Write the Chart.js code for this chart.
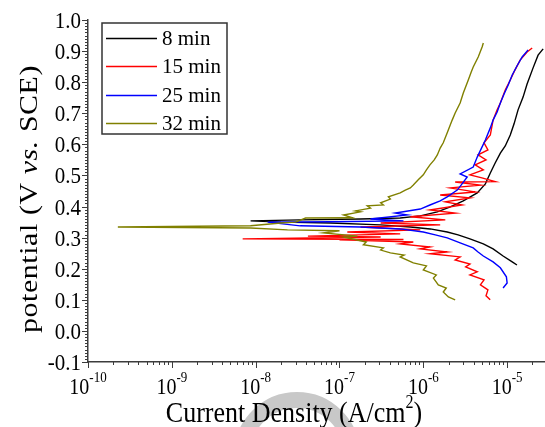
<!DOCTYPE html>
<html>
<head>
<meta charset="utf-8">
<script src="https://cdn.jsdelivr.net/npm/chart.js@4/dist/chart.umd.min.js"></script>
<style>
  html, body { margin: 0; padding: 0; background: #fff; }
  canvas { display: block; }
</style>
</head>
<body>
<canvas id="tafel" width="545" height="427"></canvas>
<script>
// series names and colours
const nombres = ["8 min", "15 min", "25 min", "32 min"];
const colores = ["#000000", "#ff0000", "#0000ff", "#808000"];

// 8 min (current A/cm2, potential V)
const curr8 = [1.31e-5, 1.15e-5, 8.95e-6, 6.8e-6, 5.2e-6, 3.6e-6, 2.6e-6, 1.93e-6, 1.21e-6, 7.0e-7, 3.1e-7, 7.8e-8, 2.0e-8, 8.7e-9, 3.4e-8, 1.78e-7, 5.3e-7, 9.2e-7, 1.47e-6, 2.1e-6, 3.0e-6, 4.4e-6, 5.5e-6, 6.3e-6, 7.2e-6, 8.3e-6, 9.5e-6, 1.09e-5, 1.21e-5, 1.35e-5, 1.55e-5, 1.73e-5, 2.04e-5, 2.34e-5, 2.69e-5];
const pot8 = [0.212, 0.222, 0.241, 0.264, 0.280, 0.296, 0.309, 0.318, 0.328, 0.334, 0.341, 0.347, 0.350, 0.354, 0.357, 0.360, 0.363, 0.370, 0.383, 0.399, 0.418, 0.444, 0.473, 0.508, 0.540, 0.572, 0.595, 0.630, 0.666, 0.711, 0.752, 0.794, 0.846, 0.887, 0.907];

// 15 min
const curr15 = [6.28e-6, 5.6e-6, 5.9e-6, 4.8e-6, 5.3e-6, 3.6e-6, 4.4e-6, 3.2e-6, 3.6e-6, 2.4e-6, 2.75e-6, 1.2e-6, 1.93e-6, 9.2e-7, 1.2e-6, 5.3e-7, 7.6e-7, 1.0e-7, 5.8e-7, 7.0e-9, 3.1e-7, 4.2e-8, 5.3e-7, 1.24e-7, 9.2e-7, 1.78e-7, 1.59e-6, 3.1e-7, 1.83e-6, 7.0e-7, 2.4e-6, 1.2e-6, 2.9e-6, 1.83e-6, 3.6e-6, 1.59e-6, 4.16e-6, 2.1e-6, 4.8e-6, 2.4e-6, 7.2e-6, 5.0e-6, 3.6e-6, 5.2e-6, 4.16e-6, 5.6e-6, 4.5e-6, 5.9e-6, 5.3e-6, 6.3e-6, 6.8e-6, 7.6e-6, 8.3e-6, 9.5e-6, 1.09e-5, 1.24e-5, 1.43e-5, 1.73e-5, 1.99e-5];
const pot15 = [0.100, 0.113, 0.132, 0.148, 0.164, 0.180, 0.190, 0.206, 0.215, 0.228, 0.238, 0.248, 0.254, 0.264, 0.270, 0.280, 0.286, 0.293, 0.294, 0.296, 0.302, 0.305, 0.312, 0.318, 0.325, 0.334, 0.341, 0.347, 0.357, 0.367, 0.379, 0.389, 0.405, 0.415, 0.428, 0.437, 0.447, 0.460, 0.469, 0.479, 0.480, 0.492, 0.502, 0.518, 0.534, 0.550, 0.566, 0.582, 0.605, 0.630, 0.678, 0.711, 0.733, 0.775, 0.807, 0.839, 0.871, 0.897, 0.910];

// 25 min
const curr25 = [8.95e-6, 1.0e-5, 9.8e-6, 8.3e-6, 6.8e-6, 5.2e-6, 4.5e-6, 3.94e-6, 2.75e-6, 1.93e-6, 1.39e-6, 1.0e-6, 5.3e-7, 1.78e-7, 3.4e-8, 1.39e-8, 7.8e-8, 5.8e-7, 2.34e-7, 6.46e-7, 4.64e-7, 9.2e-7, 1.2e-6, 1.59e-6, 1.93e-6, 2.54e-6, 2.9e-6, 3.34e-6, 2.75e-6, 3.94e-6, 4.4e-6, 5.03e-6, 5.5e-6, 6.3e-6, 6.8e-6, 7.6e-6, 8.3e-6, 9.2e-6, 1.03e-5, 1.15e-5, 1.31e-5, 1.51e-5, 1.78e-5];
const pot25 = [0.138, 0.154, 0.174, 0.203, 0.222, 0.241, 0.254, 0.267, 0.283, 0.299, 0.309, 0.318, 0.328, 0.334, 0.338, 0.350, 0.351, 0.354, 0.360, 0.373, 0.379, 0.392, 0.405, 0.418, 0.431, 0.453, 0.473, 0.495, 0.505, 0.527, 0.559, 0.592, 0.614, 0.653, 0.678, 0.704, 0.733, 0.762, 0.791, 0.823, 0.852, 0.881, 0.904];

// 32 min
const curr32 = [2.4e-6, 1.99e-6, 1.73e-6, 1.88e-6, 1.51e-6, 1.32e-6, 1.43e-6, 1.0e-6, 1.09e-6, 7.6e-7, 5.3e-7, 5.9e-7, 4.05e-7, 3.1e-7, 3.34e-7, 1.93e-7, 2.09e-7, 1.12e-7, 1.64e-7, 6.46e-8, 1.0e-7, 2.4e-8, 8.7e-9, 2.27e-10, 8.7e-9, 2.0e-8, 2.99e-8, 3.94e-8, 1.43e-7, 1.12e-7, 1.78e-7, 1.55e-7, 2.34e-7, 2.15e-7, 3.34e-7, 3.1e-7, 4.05e-7, 3.83e-7, 5.3e-7, 6.1e-7, 7.0e-7, 7.6e-7, 8.7e-7, 1.0e-6, 1.09e-6, 1.2e-6, 1.35e-6, 1.47e-6, 1.59e-6, 1.73e-6, 1.93e-6, 2.21e-6, 2.4e-6, 2.75e-6, 3.0e-6, 3.44e-6, 3.73e-6, 3.94e-6, 4.52e-6, 5.03e-6, 5.2e-6];
const pot32 = [0.100, 0.109, 0.125, 0.138, 0.148, 0.170, 0.180, 0.196, 0.209, 0.219, 0.238, 0.244, 0.251, 0.260, 0.267, 0.277, 0.286, 0.302, 0.305, 0.315, 0.322, 0.325, 0.331, 0.334, 0.338, 0.347, 0.350, 0.363, 0.364, 0.373, 0.383, 0.386, 0.395, 0.402, 0.405, 0.412, 0.424, 0.431, 0.444, 0.453, 0.460, 0.469, 0.486, 0.502, 0.518, 0.534, 0.550, 0.566, 0.588, 0.605, 0.637, 0.678, 0.701, 0.733, 0.765, 0.807, 0.833, 0.849, 0.881, 0.913, 0.926];

// axis ticks
const xTickExps = [-10, -9, -8, -7, -6, -5];
const yTickVals = [-0.1, 0.0, 0.1, 0.2, 0.3, 0.4, 0.5, 0.6, 0.7, 0.8, 0.9, 1.0];

const serie = (c, p) => c.map((v, i) => ({ x: v, y: p[i] }));
const series = [serie(curr8, pot8), serie(curr15, pot15), serie(curr25, pot25), serie(curr32, pot32)];

const FUENTE = "'Liberation Serif', 'Times New Roman', serif";

function fuente(size, style) {
  return (style || "normal") + " " + size + "px " + FUENTE;
}

// text with a vertical stretch, like the scanned figure
function texto(ctx, str, x, y, size, align, sy, style) {
  ctx.save();
  ctx.translate(x, y);
  ctx.scale(1, sy);
  ctx.font = fuente(size, style);
  ctx.textAlign = align;
  ctx.textBaseline = "alphabetic";
  ctx.fillStyle = "#000";
  ctx.fillText(str, 0, 0);
  ctx.restore();
}

const dibujo = {
  id: "dibujo",
  beforeDraw(chart) {
    // grey watermark arc behind the axis title
    const ctx = chart.ctx;
    ctx.save();
    ctx.strokeStyle = "#c8c8c8";
    ctx.lineWidth = 16;
    ctx.beginPath();
    ctx.arc(297, 455, 55, Math.PI, 2 * Math.PI);
    ctx.stroke();
    ctx.restore();
  },
  afterDraw(chart) {
    const ctx = chart.ctx;
    const xs = chart.scales.x;
    const ys = chart.scales.y;
    const area = chart.chartArea;

    ctx.save();
    ctx.strokeStyle = "#3c3c3c";
    ctx.lineWidth = 1;

    // x ticks: decades long, others short
    xTickExps.forEach((e) => {
      for (let m = 1; m <= 9; m++) {
        const v = m * Math.pow(10, e);
        if (v > xs.max) break;
        const px = Math.round(xs.getPixelForValue(v)) + 0.5;
        const len = m === 1 ? 6 : 3;
        ctx.beginPath();
        ctx.moveTo(px, area.bottom);
        ctx.lineTo(px, area.bottom + len);
        ctx.stroke();
      }
    });

    // y ticks every 0.01
    for (let i = 0; i <= 110; i++) {
      const v = -0.1 + i * 0.01;
      const py = Math.round(ys.getPixelForValue(v)) + 0.5;
      const len = i % 10 === 0 ? 6 : 3;
      ctx.beginPath();
      ctx.moveTo(area.left, py);
      ctx.lineTo(area.left - len, py);
      ctx.stroke();
    }
    ctx.restore();

    // y labels
    yTickVals.forEach((v) => {
      const py = ys.getPixelForValue(v);
      texto(ctx, v.toFixed(1), area.left - 7, py + 8, 21, "right", 1.12);
    });

    // x labels 10^n
    xTickExps.forEach((e) => {
      const px = xs.getPixelForValue(Math.pow(10, e));
      ctx.font = fuente(20);
      const wBase = ctx.measureText("10").width;
      ctx.font = fuente(13);
      const wExp = ctx.measureText(String(e)).width;
      const x0 = px - (wBase + wExp) / 2;
      texto(ctx, "10", x0, 394, 20, "left", 1.2);
      texto(ctx, String(e), x0 + wBase, 382, 13, "left", 1.2);
    });

    // x title with superscript 2
    ctx.font = fuente(26);
    const t1 = "Current Density (A/cm";
    const w1 = ctx.measureText(t1).width;
    ctx.font = fuente(16);
    const w2 = ctx.measureText("2").width;
    ctx.font = fuente(26);
    const w3 = ctx.measureText(")").width;
    const xt = 294 - (w1 + w2 + w3) / 2;
    texto(ctx, t1, xt, 422, 26, "left", 1.15);
    texto(ctx, "2", xt + w1, 408, 16, "left", 1.15);
    texto(ctx, ")", xt + w1 + w2, 422, 26, "left", 1.15);

    // y title, rotated, with italic "vs."
    const partes = [["potential (V ", "normal"], ["vs.", "italic"], [" SCE)", "normal"]];
    ctx.save();
    ctx.letterSpacing = "0.5px";
    let total = 0;
    partes.forEach((p) => {
      ctx.font = fuente(25, p[1]);
      p.push(ctx.measureText(p[0]).width);
      total += p[2];
    });
    ctx.translate(37, 199);
    ctx.rotate(-Math.PI / 2);
    const estira = 268 / total;
    ctx.scale(estira, 1);
    let xp = -total / 2;
    ctx.fillStyle = "#000";
    ctx.textAlign = "left";
    ctx.textBaseline = "alphabetic";
    partes.forEach((p) => {
      ctx.font = fuente(25, p[1]);
      ctx.fillText(p[0], xp, 0);
      xp += p[2];
    });
    ctx.restore();

    // legend box
    ctx.save();
    ctx.strokeStyle = "#333";
    ctx.lineWidth = 1.5;
    ctx.strokeRect(102, 23, 125, 111);
    const filas = [38, 66, 95, 123];
    chart.data.datasets.forEach((ds, i) => {
      ctx.strokeStyle = ds.borderColor;
      ctx.lineWidth = 1.3;
      ctx.beginPath();
      ctx.moveTo(106, filas[i] + 0.5);
      ctx.lineTo(157, filas[i] + 0.5);
      ctx.stroke();
      texto(ctx, ds.label, 162, filas[i] + 7, 21, "left", 1.0);
    });
    ctx.restore();
  },
};

const ctx = document.getElementById("tafel").getContext("2d");

new Chart(ctx, {
  type: "line",
  data: {
    datasets: series.map((d, i) => ({
      label: nombres[i],
      data: d,
      borderColor: colores[i],
      backgroundColor: colores[i],
      borderWidth: 1.4,
      pointRadius: 0,
      tension: 0,
      fill: false,
      order: 4 - i,
    })),
  },
  options: {
    responsive: false,
    animation: false,
    layout: {
      padding: { top: 20, right: 0, left: 0, bottom: 0 },
    },
    plugins: {
      legend: { display: false },
      tooltip: { enabled: false },
    },
    scales: {
      x: {
        type: "logarithmic",
        min: 1e-10,
        max: 2.83e-5,
        grid: { display: false },
        border: { display: true, color: "#3c3c3c", width: 1.5 },
        ticks: { display: false },
        afterFit: (scale) => {
          scale.height = 65;
        },
      },
      y: {
        type: "linear",
        min: -0.1,
        max: 1.0,
        grid: { display: false },
        border: { display: true, color: "#3c3c3c", width: 1.5 },
        ticks: { display: false },
        afterFit: (scale) => {
          scale.width = 88;
        },
      },
    },
  },
  plugins: [dibujo],
});
</script>
</body>
</html>
